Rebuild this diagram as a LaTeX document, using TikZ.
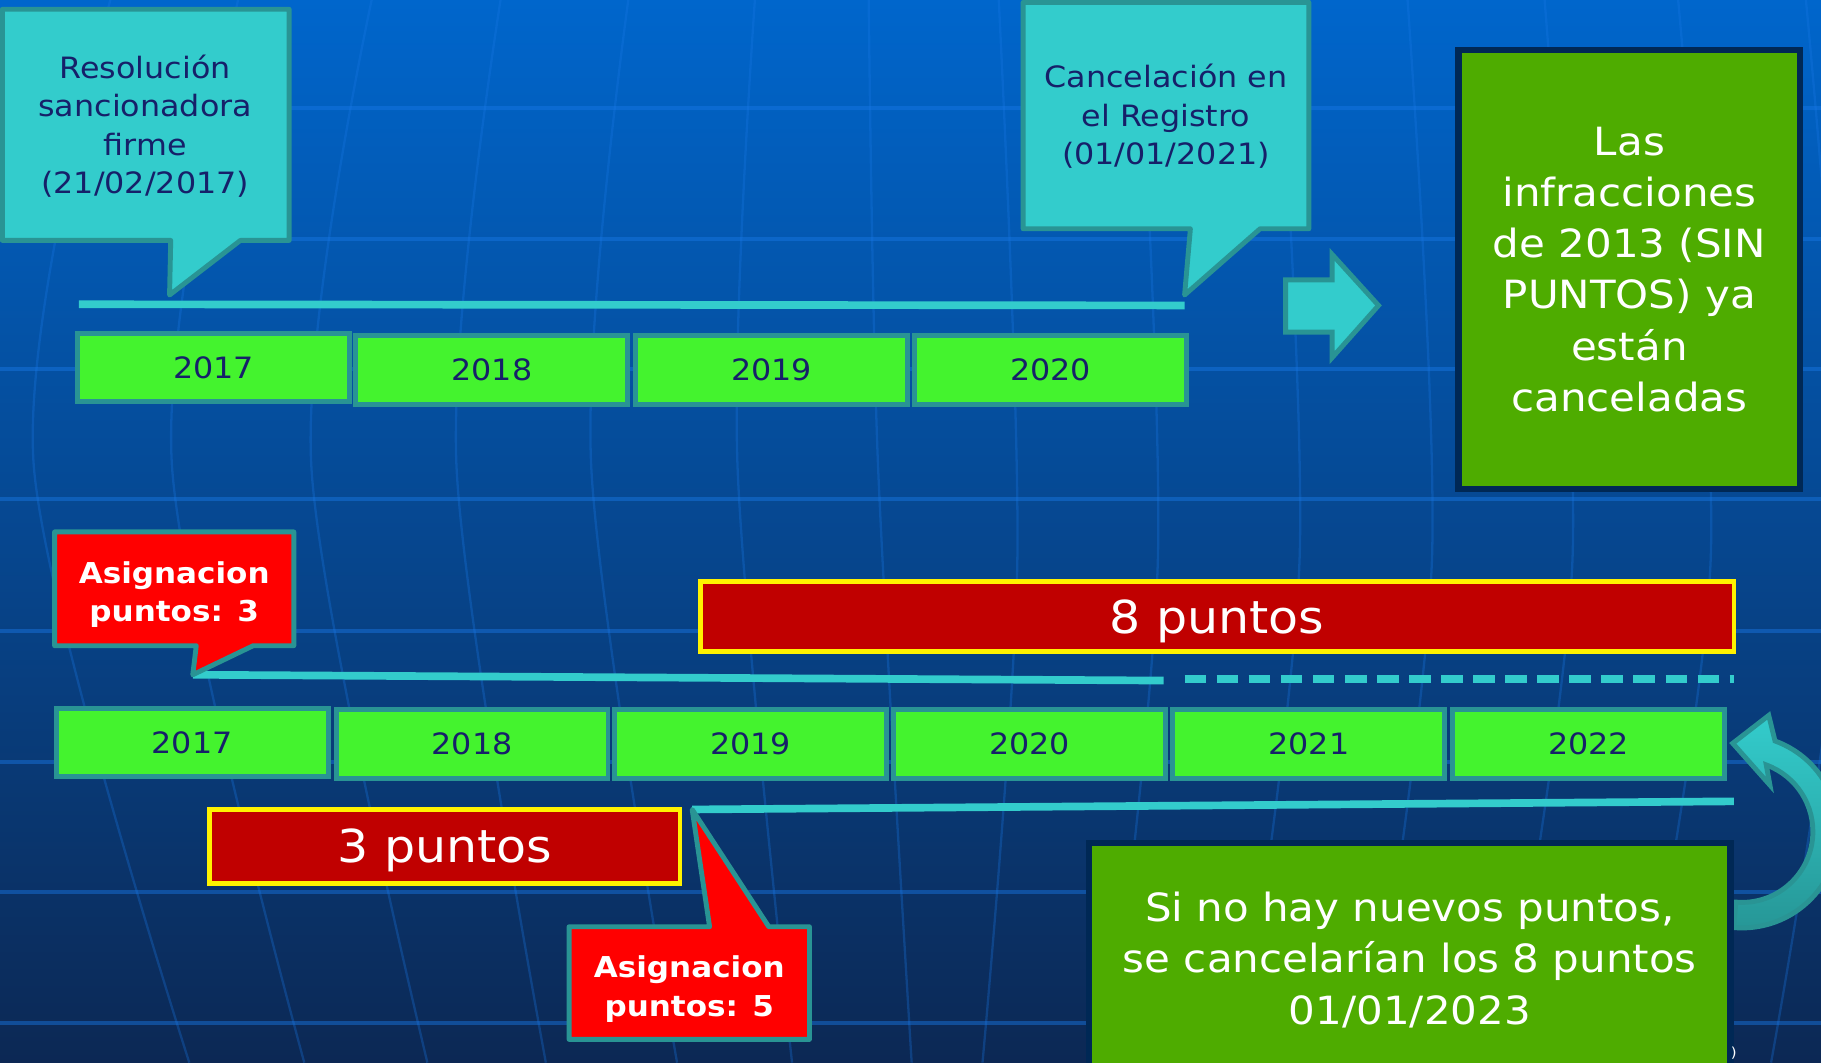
\documentclass[tikz,border=0pt]{standalone}
\usepackage{fontspec}
\setmainfont{DejaVu Sans}[FakeStretch=1.08]
\definecolor{bgtop}{RGB}{0,102,204}
\definecolor{bgmid}{RGB}{3,74,150}
\definecolor{bgbot}{RGB}{12,40,84}
\definecolor{gridblue}{RGB}{25,120,230}
\definecolor{calcyan}{RGB}{51,204,204}
\definecolor{edgeteal}{RGB}{41,148,148}
\definecolor{arrowteal}{RGB}{38,150,150}
\definecolor{yeargreen}{RGB}{68,243,46}
\definecolor{navytext}{RGB}{22,32,105}
\definecolor{okgreen}{RGB}{78,172,0}
\definecolor{okedge}{RGB}{0,40,85}
\definecolor{darkred}{RGB}{192,0,0}

\begin{document}
\begin{tikzpicture}[x=0.025cm,y=-0.025cm,
    yearbox/.style={draw=edgeteal,line width=3pt,fill=yeargreen,text=navytext,
        minimum width=5.85cm,minimum height=1.475cm,inner sep=0pt,
        font=\fontsize{18}{21}\selectfont},
    ptsbox/.style={draw=yellow,line width=3pt,fill=darkred,text=white,
        minimum height=1.5cm,inner sep=0pt,text height=20.3pt,text depth=0pt,
        font=\fontsize{27.8}{33}\selectfont},
    okbox/.style={draw=okedge,line width=3.9pt,fill=okgreen,text=white,
        align=center,inner sep=0pt,font=\fontsize{23.8}{31.4}\selectfont},
    callout/.style={draw=edgeteal,line width=3pt,fill=calcyan,line join=round},
    redcallout/.style={draw=edgeteal,line width=3pt,fill=red,line join=round},
    callouttext/.style={text=navytext,align=center,
        font=\fontsize{18}{23.5}\selectfont},
    asigntext/.style={text=white,align=center,
        font=\bfseries\fontsize{17.6}{23.5}\selectfont},
    timeline/.style={calcyan,line width=4.7pt},
    gridline/.style={gridblue,line width=2.5pt,opacity=.45},
    meridian/.style={gridblue,line width=1.4pt,opacity=.3}]
        \useasboundingbox (0,0) rectangle (1568,915);
        \clip (0,0) rectangle (1568,915);
        % Background
        \shade[top color=bgtop,middle color=bgmid,bottom color=bgbot] (0,0) rectangle (1568,915);
        \draw[gridline] (0,93) -- (1568,93);
        \draw[gridline] (0,206) -- (1568,206);
        \draw[gridline] (0,318) -- (1568,318);
        \draw[gridline] (0,430) -- (1568,430);
        \draw[gridline] (0,543) -- (1568,543);
        \draw[gridline] (0,656) -- (1568,656);
        \draw[gridline] (0,768) -- (1568,768);
        \draw[gridline] (0,881) -- (1568,881);
        \draw[meridian] plot[smooth] coordinates {(95,0) (29,400) (163,915)};
        \draw[meridian] plot[smooth] coordinates {(205,0) (148,400) (262,915)};
        \draw[meridian] plot[smooth] coordinates {(320,0) (268,400) (368,915)};
        \draw[meridian] plot[smooth] coordinates {(431,0) (393,400) (470,915)};
        \draw[meridian] plot[smooth] coordinates {(541,0) (509,400) (583,915)};
        \draw[meridian] plot[smooth] coordinates {(650,0) (635,400) (682,915)};
        \draw[meridian] plot[smooth] coordinates {(748,0) (756,400) (785,915)};
        \draw[meridian] plot[smooth] coordinates {(860,0) (876,482) (846,915)};
        \draw[meridian] plot[smooth] coordinates {(980,0) (997,482) (955,915)};
        \draw[meridian] plot[smooth] coordinates {(1100,0) (1119,482) (1068,915)};
        \draw[meridian] plot[smooth] coordinates {(1212,0) (1233,482) (1180,915)};
        \draw[meridian] plot[smooth] coordinates {(1330,0) (1354,482) (1295,915)};
        \draw[meridian] plot[smooth] coordinates {(1445,0) (1473,482) (1410,915)};
        \draw[meridian] plot[smooth] coordinates {(1555,0) (1585,482) (1525,915)};
        % Tips and line ends
        \coordinate (resoltip) at (146,254);
        \coordinate (canceltip) at (1020,254);
        \coordinate (asign3tip) at (166,581);
        \coordinate (asign5tip) at (596,697);
        \coordinate (topstart) at (68,262);
        \coordinate (topend) at (1020,263);
        \coordinate (pts3end) at (1002,586);
        \coordinate (dashstart) at (1020,584.5);
        \coordinate (dashend) at (1493,584.5);
        \coordinate (pts5end) at (1493,690);
        % Time lines
        \draw[timeline] (topstart) -- (topend);
        \draw[timeline] (asign3tip) -- (pts3end);
        \draw[timeline,dash pattern=on 0.465cm off 0.225cm] (dashstart) -- (dashend);
        \draw[timeline] (asign5tip) -- (pts5end);
        % Callouts
        \draw[callout] (2,8) -- (249,8) -- (249,207) -- (207,207) -- (resoltip) -- (147,207) -- (2,207) -- cycle;
        \draw[callout] (881,2) -- (1127,2) -- (1127,197) -- (1085,197) -- (canceltip) -- (1025,197) -- (881,197) -- cycle;
        \draw[redcallout] (47,458) -- (253,458) -- (253,556) -- (218,556) -- (asign3tip) -- (169,556) -- (47,556) -- cycle;
        \draw[redcallout] (490,798) -- (611,798) -- (asign5tip) -- (662,798) -- (697,798) -- (697,895) -- (490,895) -- cycle;
        \node[callouttext] (resol) at (125,108.6) {Resolución\\sancionadora\\firme\\(21/02/2017)};
        \node[callouttext] (cancel) at (1004,100.2) {Cancelación en\\el Registro\\(01/01/2021)};
        \node[asigntext] (asign3) at (150,511.9) {Asignacion\\puntos: 3};
        \node[asigntext] (asign5) at (593.5,851.7) {Asignacion\\puntos: 5};
        % Block arrow
        \draw[callout,line join=miter] (1107,241) -- (1147,241) -- (1147,219) -- (1187,263) -- (1147,308) -- (1147,286) -- (1107,286) -- cycle;
        % Years
        \node[yearbox] (y17a) at (184,316.5) {2017};
        \node[yearbox] (y18a) at (423.5,318.5) {2018};
        \node[yearbox] (y19a) at (664.5,318.5) {2019};
        \node[yearbox] (y20a) at (904.5,318.5) {2020};
        \node[yearbox] (y17b) at (165.5,639.3) {2017};
        \node[yearbox] (y18b) at (406.5,640.5) {2018};
        \node[yearbox] (y19b) at (646.5,640.5) {2019};
        \node[yearbox] (y20b) at (886.5,640.5) {2020};
        \node[yearbox] (y21b) at (1127,640.5) {2021};
        \node[yearbox] (y22b) at (1368,640.5) {2022};
        % Points
        \node[ptsbox,minimum width=22.25cm] (pts8) at (1048,531) {8 puntos};
        \node[ptsbox,minimum width=10.125cm,minimum height=1.5875cm] (pts3) at (383,728.8) {3 puntos};
        % Curved arrow
        \draw[draw=edgeteal,line width=3pt,top color=calcyan,bottom color=arrowteal,shift={(1500,716)}]
            (-70:83) arc[start angle=-70,end angle=95,radius=83] -- (95:61)
            arc[start angle=95,end angle=-70,radius=61] -- (24,-40) -- (-8,-76) -- (23,-100) -- cycle;
        % Green boxes
        \node[okbox,minimum width=7.35cm,minimum height=9.45cm] (sinpuntos) at (1403,232)
            {Las\\infracciones\\de 2013 (SIN\\PUNTOS) ya\\están\\canceladas};
        \node[okbox,minimum width=13.8cm,minimum height=5.025cm] (nuevos) at (1214,826.6)
            {Si no hay nuevos puntos,\\se cancelarían los 8 puntos\\01/01/2023};
        \node[text=white,font=\fontsize{8.5}{10}\selectfont,inner sep=0pt] (paren) at (1493,907) {)};
    \end{tikzpicture}
\end{document}
